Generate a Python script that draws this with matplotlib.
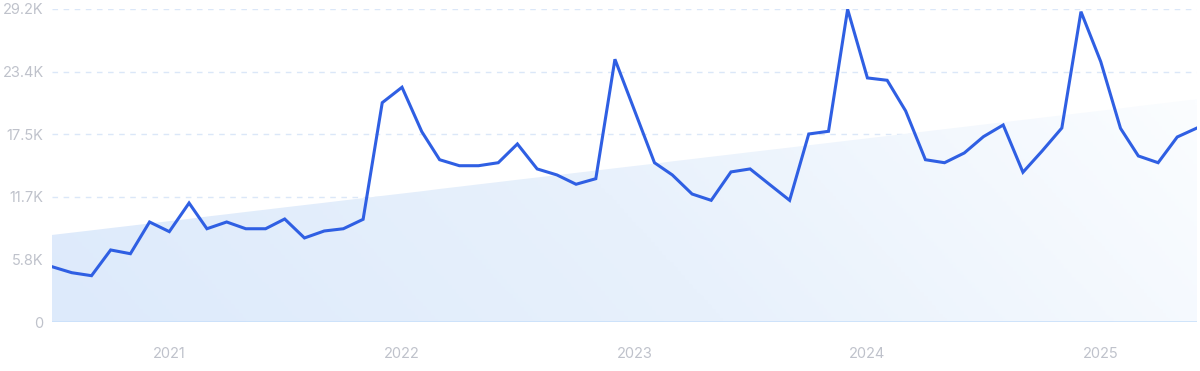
import numpy as np
import pandas as pd
import matplotlib
matplotlib.use('Agg')
import matplotlib.pyplot as plt
import matplotlib.dates as mdates
from matplotlib.colors import LinearSegmentedColormap

# monthly values, Jul 2020 - Jun 2025
months = pd.date_range('2020-07-01', '2025-06-01', freq='MS')
values = [
    5160, 4600, 4320, 6720, 6370, 9330,
    8430, 11100, 8700, 9330, 8700, 8700, 9610, 7840, 8490, 8700, 9580, 20460,
    21900, 17760, 15140, 14580, 14580, 14860, 16610, 14280, 13720, 12850, 13370, 24510,
    19690, 14860, 13720, 11940, 11350, 14000, 14280, 12810, 11350, 17540, 17790, 29170,
    22770, 22550, 19690, 15140, 14860, 15770, 17290, 18380, 13970, 15950, 18100, 28950,
    24290, 18070, 15490, 14860, 17260, 18100,
]
# trend line ends (first and last month)
trend_ends = [8120, 20780]

y_ticks = [0, 5840, 11680, 17520, 23360, 29200]
y_labels = ['0', '5.8K', '11.7K', '17.5K', '23.4K', '29.2K']
year_ticks = ['2021', '2022', '2023', '2024', '2025']

plt.rcParams['font.family'] = ['Inter', 'DejaVu Sans']

fig = plt.figure(figsize=(12, 3.71), dpi=100)
ax = fig.add_axes([52 / 1200, 49 / 371, 1145 / 1200, 313 / 371])

x = mdates.date2num(months)
trend = np.linspace(trend_ends[0], trend_ends[1], len(x))

# gradient fill under the trend line
poly = ax.fill_between(x, 0, trend, color='none', lw=0)
cmap = LinearSegmentedColormap.from_list('grad', ['#ddeafb', '#e8f1fc', '#fbfdff'])
gx, gy = np.meshgrid(np.linspace(0, 1, 300), np.linspace(0, 1, 100))
grad = 0.85 * gx + 0.15 * gy
im = ax.imshow(grad, cmap=cmap, aspect='auto', origin='lower',
               extent=[x[0], x[-1], 0, trend_ends[1]], zorder=1, vmin=0, vmax=1)
path = poly.get_paths()[0]
im.set_clip_path(path, transform=ax.transData)

for t in y_ticks[1:]:
    ax.axhline(t, color='#dbe7f8', lw=1, ls=(0, (4, 4)), zorder=0)
ax.axhline(0, color='#c9e0fa', lw=1.2, zorder=2)

ax.plot(x, values, color='#2f5fe3', lw=2.2, zorder=3, solid_joinstyle='miter')

ax.set_xlim(x[0], x[-1])
ax.set_ylim(0, 29200)
ax.set_yticks(y_ticks)
ax.set_yticklabels(y_labels)
ax.set_xticks(mdates.date2num(pd.to_datetime([y + '-01-01' for y in year_ticks])))
ax.set_xticklabels(year_ticks)
ax.tick_params(axis='both', length=0, labelsize=10.5, labelcolor='#bfc2cb')
ax.tick_params(axis='y', pad=6)
ax.tick_params(axis='x', pad=18)
for s in ax.spines.values():
    s.set_visible(False)

fig.savefig('out.png', dpi=100)
